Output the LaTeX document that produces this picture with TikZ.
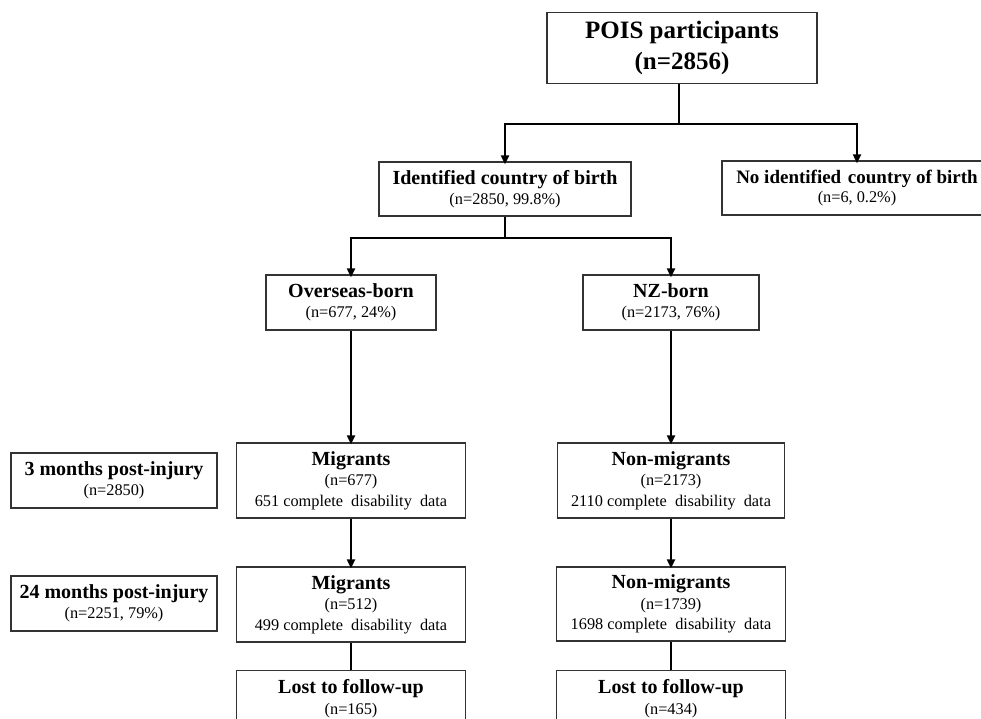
\documentclass[tikz,border=0pt]{standalone}
\usepackage{fontspec}
\setmainfont{Liberation Serif}
\usetikzlibrary{arrows.meta,positioning}
\tikzset{
  box/.style={draw=black!80, line width=1.3pt, fill=white, align=center, inner sep=0pt,
    font=\fontsize{16.3}{20.5}\selectfont},
  conn/.style={line width=2pt, black},
  arr/.style={conn, -{Triangle[length=9pt,width=8pt]}},
}
\newcommand{\ttl}[1]{{\fontsize{20}{20}\selectfont\bfseries #1}}
\begin{document}
\begin{tikzpicture}[x=1pt,y=-1pt]
\useasboundingbox (0,0) rectangle (981,718);
\clip (0,0) rectangle (981,718);
\fill[white] (0,0) rectangle (981,718);
% nodes
\node[box, minimum width=270, minimum height=71, font=\fontsize{25}{31}\selectfont\bfseries] (pois) at (682,48) {POIS participants\\(n=2856)};
\node[box, minimum width=252, minimum height=54] (ident) at (505,189) {\ttl{Identified country of birth}\\[-1pt](n=2850, 99.8\%)};
\node[box, minimum width=270, minimum height=54] (noid) at (857,188) {{\fontsize{19}{20}\selectfont\bfseries No identified\hspace{0.35em}country of birth}\\[-1pt](n=6, 0.2\%)};
\node[box, minimum width=170, minimum height=55] (over) at (351,302.5) {\ttl{Overseas-born}\\[-1pt](n=677, 24\%)};
\node[box, minimum width=176, minimum height=55] (nz) at (671,302.5) {\ttl{NZ-born}\\[-1pt](n=2173, 76\%)};
\node[box, minimum width=206, minimum height=55] (m3) at (114,480.5) {\ttl{3 months post-injury}\\[-1pt](n=2850)};
\node[box, minimum width=229, minimum height=75] (mig3) at (351,480.5) {\ttl{Migrants}\\(n=677)\\651 complete\ \ disability\ \ data};
\node[box, minimum width=227, minimum height=75] (non3) at (671,480.5) {\ttl{Non-migrants}\\(n=2173)\\2110 complete\ \ disability\ \ data};
\node[box, minimum width=206, minimum height=55] (m24) at (114,603.5) {\ttl{24 months post-injury}\\[-1pt](n=2251, 79\%)};
\node[box, minimum width=229, minimum height=75] (mig24) at (351,604.5) {\ttl{Migrants}\\(n=512)\\499 complete\ \ disability\ \ data};
\node[box, minimum width=229, minimum height=74] (non24) at (671,604) {\ttl{Non-migrants}\\(n=1739)\\1698 complete\ \ disability\ \ data};
\node[box, minimum width=229, inner ysep=9pt, anchor=north] (lostL) at (351,670) {\ttl{Lost to follow-up}\\(n=165)};
\node[box, minimum width=229, inner ysep=9pt, anchor=north] (lostR) at (671,670) {\ttl{Lost to follow-up}\\(n=434)};
% connectors
\draw[conn] ([xshift=-3pt]pois.south) -- ++(0,40) coordinate (b1);
\draw[arr] (b1) -| ([yshift=-3pt]ident.north);
\draw[arr] (b1) -| ([yshift=-3pt]noid.north);
\draw[conn] (ident.south) -- ++(0,21) coordinate (b2);
\draw[arr] (b2) -| ([yshift=-3pt]over.north);
\draw[arr] (b2) -| ([yshift=-3pt]nz.north);
\draw[arr] (over.south) -- ([yshift=-2pt]mig3.north);
\draw[arr] (nz.south) -- ([yshift=-2pt]non3.north);
\draw[arr] (mig3.south) -- ([yshift=-2pt]mig24.north);
\draw[arr] (non3.south) -- ([yshift=-2pt]non24.north);
\draw[conn] (mig24.south) -- (lostL.north);
\draw[conn] (non24.south) -- (lostR.north);
\end{tikzpicture}
\end{document}
